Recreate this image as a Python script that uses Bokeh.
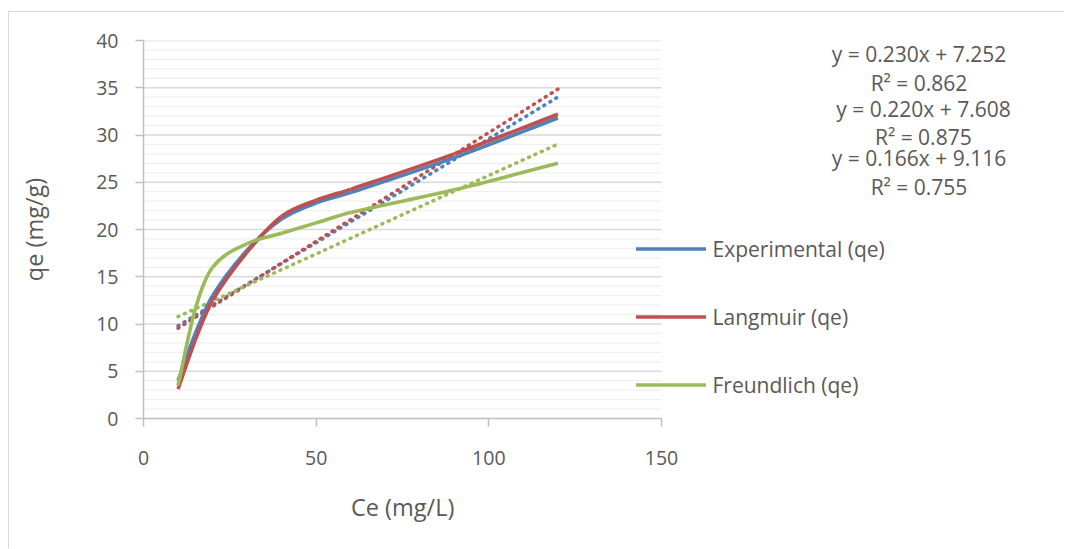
import numpy as np
from bokeh.plotting import figure
from bokeh.models import (Range1d, Legend, LegendItem, Label, FixedTicker, ColumnDataSource,
                          Title, CDSView, IndexFilter)
from bokeh.embed import file_html
from bokeh.resources import INLINE

# ---- data ----
ce = [10, 15, 20, 30, 40, 50, 60, 90, 120]
qe_experimental = [4.0, 9.0, 13.0, 17.8, 21.1, 22.8, 23.9, 27.6, 31.8]
qe_langmuir = [3.1, 8.3, 12.5, 17.6, 21.4, 23.1, 24.25, 28.0, 32.2]
qe_freundlich = [3.5, 11.6, 16.0, 18.5, 19.6, 20.7, 21.8, 24.2, 27.0]
series_names = ["Experimental (qe)", "Langmuir (qe)", "Freundlich (qe)"]
trend_slope = [0.220, 0.230, 0.166]
trend_intercept = [7.608, 7.252, 9.116]
equation_texts = ["y = 0.230x + 7.252", "R² = 0.862",
                  "y = 0.220x + 7.608", "R² = 0.875",
                  "y = 0.166x + 9.116", "R² = 0.755"]
x_ticks = [0, 50, 100, 150]
y_ticks = [0, 5, 10, 15, 20, 25, 30, 35, 40]
y_minor = [v for v in range(1, 40) if v % 5]

colors = ["#4F81BD", "#C0504D", "#9BBB59"]
FONT = "Open Sans"
TXT = "#595959"

# ---- layout (page pixels of the reference) ----
OX, OY = 9.5, 12.5          # canvas origin on the page (margin + border)
FL, FT, FH = 134, 28, 378
W, H = 1055, 536
FW = W - FL
PX_PER_X = 518 / 150.0
XMAX = FW / PX_PER_X
PX_PER_Y = FH / 40.0

def dx(page_x):
    return (page_x - (OX + FL)) / PX_PER_X

def dy(page_y):
    return (OY + FT + FH - page_y) / PX_PER_Y

p = figure(frame_width=FW, frame_height=FH,
           min_border_left=FL, min_border_right=0,
           min_border_top=FT, min_border_bottom=H - FT - FH,
           x_range=Range1d(0, XMAX), y_range=Range1d(0, 40),
           output_backend="svg", toolbar_location=None)
p.styles = {"margin-left": "8px", "margin-top": "11px",
            "border-left": "1.5px solid #d9d9d9", "border-top": "1.5px solid #d9d9d9"}
p.outline_line_color = None
p.background_fill_color = "white"
p.border_fill_color = "white"
p.grid.visible = False

# horizontal gridlines over the x span 0..150
p.segment(x0=[x_ticks[0]] * len(y_minor), x1=[x_ticks[-1]] * len(y_minor),
          y0=y_minor, y1=y_minor, line_color="#efefef", line_width=1.3)
p.segment(x0=[x_ticks[0]] * (len(y_ticks) - 1), x1=[x_ticks[-1]] * (len(y_ticks) - 1),
          y0=y_ticks[1:], y1=y_ticks[1:], line_color="#d9d9d9", line_width=1.3)

# axes
p.xaxis.ticker = FixedTicker(ticks=x_ticks)
p.yaxis.ticker = FixedTicker(ticks=y_ticks)
p.xaxis.bounds = (x_ticks[0], x_ticks[-1])
for ax in (p.xaxis[0], p.yaxis[0]):
    ax.axis_line_color = "#bfbfbf"
    ax.axis_line_width = 1.5
    ax.major_tick_line_color = "#bfbfbf"
    ax.major_tick_line_width = 1.5
    ax.major_tick_out = 8
    ax.major_tick_in = 0
    ax.minor_tick_line_color = None
    ax.major_label_text_font = FONT
    ax.major_label_text_font_size = "19.5px"
    ax.major_label_text_color = TXT
    ax.axis_label_text_font = FONT
    ax.axis_label_text_font_size = "23.5px"
    ax.axis_label_text_font_style = "normal"
    ax.axis_label_text_color = TXT
p.yaxis.axis_label = "qe (mg/g)"
p.xaxis.major_label_standoff = 24
p.yaxis.major_label_standoff = 17
p.yaxis.axis_label_standoff = 43
# tiny blank x-axis label: only adds a little space above the x title
p.xaxis.axis_label = " "
p.xaxis.axis_label_text_font_size = "1px"
p.xaxis.axis_label_standoff = 4

# x-axis title, centred under the 0..150 span
xtitle = Title(text="Ce (mg/L)", align="left", offset=402 - 51 - (OX + FL),
               text_font=FONT, text_font_size="23.5px", text_font_style="normal",
               text_color=TXT)
title_props = Title.properties()
if "standoff" in title_props:
    xtitle.standoff = 26
elif "padding" in title_props:
    xtitle.padding = 8
p.add_layout(xtitle, "below")

# smoothed series via cubic bezier segments
def bezier_source(xs, ys):
    xs = np.asarray(xs, float); ys = np.asarray(ys, float)
    n = len(xs)
    slopes = []
    for i in range(n):
        a, b = max(i - 1, 0), min(i + 1, n - 1)
        slopes.append((ys[b] - ys[a]) / (xs[b] - xs[a]))
    d = dict(x0=[], y0=[], x1=[], y1=[], cx0=[], cy0=[], cx1=[], cy1=[])
    for i in range(n - 1):
        h = (xs[i + 1] - xs[i]) / 3.0
        d["x0"].append(xs[i]); d["y0"].append(ys[i])
        d["x1"].append(xs[i + 1]); d["y1"].append(ys[i + 1])
        d["cx0"].append(xs[i] + h); d["cy0"].append(ys[i] + slopes[i] * h)
        d["cx1"].append(xs[i + 1] - h); d["cy1"].append(ys[i + 1] - slopes[i + 1] * h)
    return ColumnDataSource(d)

all_series = [qe_experimental, qe_langmuir, qe_freundlich]
legend_items = []
for k, ys in enumerate(all_series):
    tx = [min(ce), max(ce)]
    ty = [trend_slope[k] * v + trend_intercept[k] for v in tx]
    p.line(tx, ty, line_color=colors[k], line_width=3.5, line_dash="1 6",
           line_cap="round")
for k, ys in enumerate(all_series):
    src = bezier_source(ce, ys)
    p.bezier(x0="x0", y0="y0", x1="x1", y1="y1", cx0="cx0", cy0="cy0",
             cx1="cx1", cy1="cy1", source=src, line_color=colors[k], line_width=3.6)
    key_src = ColumnDataSource(dict(x=ce, y=ys))
    key = p.line("x", "y", source=key_src, view=CDSView(filter=IndexFilter([])),
                 line_color=colors[k], line_width=3.6)
    legend_items.append(LegendItem(label=series_names[k], renderers=[key]))

# legend keys (drawn explicitly so the short coloured lines always show)
key_rows = [249, 317, 385]
p.segment(x0=[dx(636)] * 3, x1=[dx(706)] * 3,
          y0=[dy(v) for v in key_rows], y1=[dy(v) for v in key_rows],
          line_color=colors, line_width=3.6)

legend = Legend(items=legend_items, location=(636 - (OX + FL), (OY + FT + FH) - 400),
                glyph_width=70, glyph_height=30, label_height=30, spacing=38,
                label_standoff=7, padding=0, margin=0,
                border_line_color=None, background_fill_alpha=0,
                label_text_font=FONT, label_text_font_size="21px",
                label_text_color=TXT)
p.add_layout(legend)

# trend-line equations
eq_pos = [(919, 54), (919, 83.3), (923.5, 109), (923.3, 137.3), (919, 157.7), (919, 186.7)]
for t, (px, py) in zip(equation_texts, eq_pos):
    p.add_layout(Label(x=dx(px), y=dy(py), text=t, text_align="center",
                       text_baseline="middle", text_font=FONT,
                       text_font_size="21px", text_color=TXT))

open("out.html", "w").write(file_html(p, INLINE))
